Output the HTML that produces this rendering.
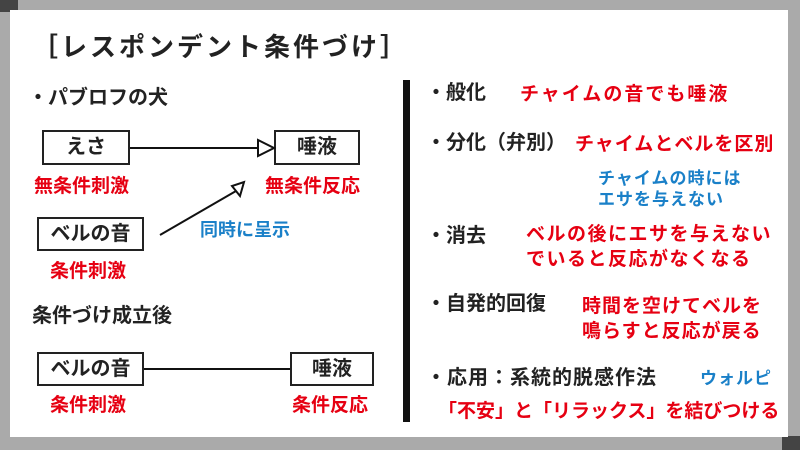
<!DOCTYPE html><html><head><meta charset="utf-8"><style>
body{margin:0;width:800px;height:450px;background:#aaa;position:relative;overflow:hidden;font-family:"Liberation Sans","Noto Sans CJK JP",sans-serif;font-weight:bold;color:#222}
.w{position:absolute;left:10px;top:10px;width:778px;height:427px;background:#fff}
.t{position:absolute;white-space:nowrap;line-height:1}
.r{color:#e60012}.b{color:#1a80c8}
.box{position:absolute;border:2.5px solid #222;background:#fff;font-size:20px;text-align:center;box-sizing:border-box;line-height:30px}
.c{position:absolute;background:#444}
</style></head><body>
<div class="c" style="left:0;top:0;width:18px;height:12px"></div>
<div class="c" style="left:782px;top:436px;width:18px;height:14px"></div>
<div class="w"></div>
<div class="t" style="left:32px;top:34px;font-size:26px;letter-spacing:3px">［レスポンデント条件づけ］</div>
<div class="t" style="left:28px;top:88px;font-size:20px">・パブロフの犬</div>
<div class="box" style="left:42px;top:130px;width:88px;height:35px">えさ</div>
<div class="box" style="left:274px;top:130px;width:86px;height:35px">唾液</div>
<div class="box" style="left:37px;top:217px;width:107px;height:34px">ベルの音</div>
<div class="box" style="left:37px;top:352px;width:107px;height:34px">ベルの音</div>
<div class="box" style="left:290px;top:352px;width:84px;height:34px">唾液</div>
<svg style="position:absolute;left:0;top:0" width="800" height="450">
<line x1="130" y1="148" x2="258" y2="148" stroke="#111" stroke-width="2"/>
<polygon points="258,140 258,156 274,148" fill="#fff" stroke="#111" stroke-width="2"/>
<line x1="160" y1="235" x2="236" y2="191" stroke="#111" stroke-width="2"/>
<polygon points="232,186 240,196 244,182" fill="#fff" stroke="#111" stroke-width="2"/>
<line x1="144" y1="369" x2="290" y2="369" stroke="#111" stroke-width="2"/>
<rect x="403" y="80" width="7" height="342" fill="#111"/>
</svg>
<div class="t r" style="left:34px;top:177px;font-size:19px">無条件刺激</div>
<div class="t r" style="left:265px;top:177px;font-size:19px">無条件反応</div>
<div class="t b" style="left:200px;top:221px;font-size:18px">同時に呈示</div>
<div class="t r" style="left:50px;top:262px;font-size:19px">条件刺激</div>
<div class="t" style="left:32px;top:306px;font-size:20px">条件づけ成立後</div>
<div class="t r" style="left:50px;top:396px;font-size:19px">条件刺激</div>
<div class="t r" style="left:292px;top:396px;font-size:19px">条件反応</div>

<div class="t" style="left:426px;top:83px;font-size:20px">・般化</div>
<div class="t r" style="left:520px;top:85px;font-size:19px;letter-spacing:2px">チャイムの音でも唾液</div>
<div class="t" style="left:426px;top:133px;font-size:20px">・分化（弁別）</div>
<div class="t r" style="left:575px;top:135px;font-size:19px;letter-spacing:1px">チャイムとベルを区別</div>
<div class="t b" style="left:598px;top:170px;font-size:17px;letter-spacing:1px">チャイムの時には</div>
<div class="t b" style="left:598px;top:191px;font-size:17px;letter-spacing:1px">エサを与えない</div>
<div class="t" style="left:426px;top:226px;font-size:20px">・消去</div>
<div class="t r" style="left:526px;top:225px;font-size:19px;letter-spacing:1.5px">ベルの後にエサを与えない</div>
<div class="t r" style="left:526px;top:250px;font-size:19px;letter-spacing:1.5px">でいると反応がなくなる</div>
<div class="t" style="left:426px;top:294px;font-size:20px">・自発的回復</div>
<div class="t r" style="left:582px;top:297px;font-size:19px;letter-spacing:1px">時間を空けてベルを</div>
<div class="t r" style="left:582px;top:322px;font-size:19px;letter-spacing:1px">鳴らすと反応が戻る</div>
<div class="t" style="left:426px;top:368px;font-size:20px;letter-spacing:1px">・応用：系統的脱感作法</div>
<div class="t b" style="left:700px;top:370px;font-size:17px;letter-spacing:1px">ウォルピ</div>
<div class="t r" style="left:438px;top:402px;font-size:19px;letter-spacing:0px">「不安」と「リラックス」を結びつける</div>
</body></html>
